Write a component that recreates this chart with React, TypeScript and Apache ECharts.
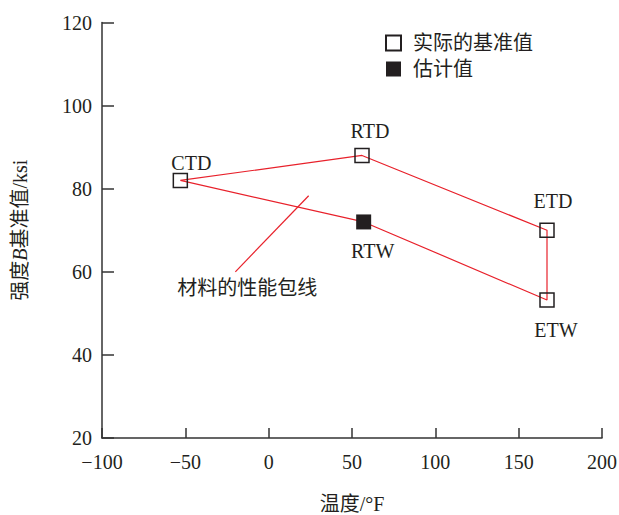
import React, { useEffect, useRef } from "react";
import * as echarts from "echarts";

const actualNames = ["CTD", "RTD", "ETD", "ETW"];
const actualTemps = [-53, 56, 167, 167];
const actualStrengths = [82, 88, 70, 53.2];

const estimateNames = ["RTW"];
const estimateTemps = [57];
const estimateStrengths = [72];

const envelopeOrder = ["CTD", "RTD", "ETD", "ETW", "RTW", "CTD"];

const annotTemps = [24, -20];
const annotStrengths = [78.3, 60];
const annotText = "材料的性能包线";

const legendNames = ["实际的基准值", "估计值"];
const xTitle = "温度/°F";
const yTitle = "强度{i|B}基准值/ksi";

const FONT = "'Liberation Serif', 'Times New Roman', 'Noto Sans CJK SC', serif";
const INK = "#231f20";
const RED = "#e8212b";

const labelCfg: Record<string, { position: string; offset: number[] }> = {
  CTD: { position: "top", offset: [11, 5] },
  RTD: { position: "top", offset: [8, -2] },
  ETD: { position: "top", offset: [6, -7] },
  ETW: { position: "bottom", offset: [9, 7] },
  RTW: { position: "bottom", offset: [9, 7] },
};

export default function App() {
  const ref = useRef<HTMLDivElement>(null);
  useEffect(() => {
    if (!ref.current) return;
    const chart = echarts.init(ref.current, null, { renderer: "svg" });
    const lookup: Record<string, number[]> = {};
    actualNames.forEach((n, i) => (lookup[n] = [actualTemps[i], actualStrengths[i]]));
    estimateNames.forEach((n, i) => (lookup[n] = [estimateTemps[i], estimateStrengths[i]]));
    const mkLabel = (n: string) => ({
      show: true,
      formatter: n,
      position: labelCfg[n].position,
      offset: labelCfg[n].offset,
      fontSize: 20,
      fontFamily: FONT,
      color: INK,
    });
    chart.setOption({
      animation: false,
      backgroundColor: "#ffffff",
      textStyle: { fontFamily: FONT },
      grid: {
        left: 102,
        right: 17,
        top: 22.5,
        bottom: 77,
        containLabel: false,
        outerBoundsMode: "none",
      },
      legend: {
        orient: "vertical",
        left: 380,
        top: 28,
        itemWidth: 15,
        itemHeight: 15,
        itemGap: 6,
        icon: "rect",
        data: legendNames,
        textStyle: { fontSize: 20, fontFamily: FONT, color: INK, padding: [0, 0, 0, 7] },
      },
      xAxis: {
        type: "value",
        min: -100,
        max: 200,
        interval: 50,
        name: xTitle,
        nameLocation: "middle",
        nameGap: 56,
        nameTextStyle: { fontSize: 20, fontFamily: FONT, color: INK },
        axisLine: { show: true, onZero: false, lineStyle: { color: "#333", width: 1.5 } },
        axisTick: { show: true, inside: true, length: 10, lineStyle: { color: "#333", width: 1.5 } },
        axisLabel: {
          fontSize: 20,
          fontFamily: FONT,
          color: INK,
          margin: 14,
          formatter: (v: number) => String(v).replace("-", "−"),
        },
        splitLine: { show: false },
      },
      yAxis: {
        type: "value",
        min: 20,
        max: 120,
        interval: 20,
        name: yTitle,
        nameLocation: "middle",
        nameGap: 72,
        nameTextStyle: {
          fontSize: 20,
          fontFamily: FONT,
          color: INK,
          rich: { i: { fontStyle: "italic", fontSize: 20, fontFamily: FONT, color: INK } },
        },
        axisLine: { show: true, onZero: false, lineStyle: { color: "#333", width: 1.5 } },
        axisTick: { show: true, inside: true, length: 12, lineStyle: { color: "#333", width: 1.5 } },
        axisLabel: { fontSize: 20, fontFamily: FONT, color: INK, margin: 10 },
        splitLine: { show: false },
      },
      series: [
        {
          name: "envelope",
          type: "line",
          data: envelopeOrder.map((n) => lookup[n]),
          symbol: "none",
          lineStyle: { color: RED, width: 1.2 },
          z: 2,
        },
        {
          name: "annotation",
          type: "line",
          data: annotTemps.map((t, i) => [t, annotStrengths[i]]),
          symbol: "none",
          lineStyle: { color: RED, width: 1.2 },
          z: 2,
        },
        {
          name: "annotationLabel",
          type: "scatter",
          symbol: "circle",
          symbolSize: 1,
          itemStyle: { color: "rgba(255,255,255,0)", opacity: 1 },
          data: [
            {
              value: [annotTemps[annotTemps.length - 1], annotStrengths[annotStrengths.length - 1]],
              label: {
                show: true,
                formatter: annotText,
                position: "bottom",
                offset: [12, 1],
                fontSize: 20,
                fontFamily: FONT,
                color: INK,
              },
            },
          ],
          z: 2,
        },
        {
          name: legendNames[0],
          type: "scatter",
          symbol: "rect",
          symbolSize: 14,
          itemStyle: { color: "rgba(255,255,255,0)", borderColor: INK, borderWidth: 1.5, opacity: 1 },
          data: actualNames.map((n, i) => ({
            value: [actualTemps[i], actualStrengths[i]],
            label: mkLabel(n),
          })),
          z: 3,
        },
        {
          name: legendNames[1],
          type: "scatter",
          symbol: "rect",
          symbolSize: 15,
          itemStyle: { color: INK, opacity: 1 },
          data: estimateNames.map((n, i) => ({
            value: [estimateTemps[i], estimateStrengths[i]],
            label: mkLabel(n),
          })),
          z: 3,
        },
      ],
    });
    return () => chart.dispose();
  }, []);
  return (
    <div
      ref={ref}
      style={{ position: "absolute", left: 0, top: 0, width: 619, height: 515 }}
    />
  );
}
